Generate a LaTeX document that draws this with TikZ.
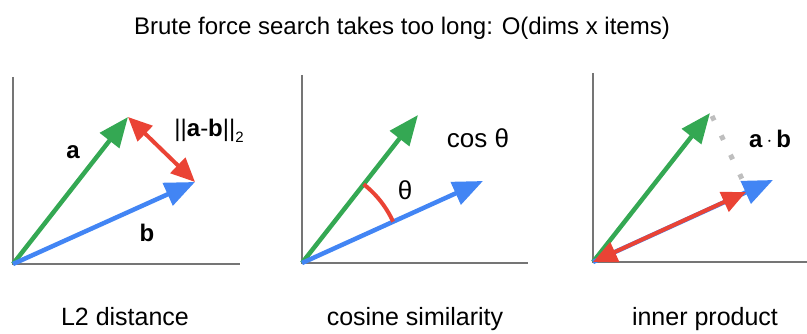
\documentclass[tikz,border=0pt]{standalone}
\usepackage{fontspec}
\setmainfont{Liberation Sans}
\usetikzlibrary{arrows.meta}

\definecolor{ggreen}{RGB}{52,168,83}
\definecolor{gblue}{RGB}{66,133,244}
\definecolor{gred}{RGB}{234,67,53}
\definecolor{axisgray}{RGB}{117,117,117}
\definecolor{dotgray}{RGB}{190,190,190}

\begin{document}
\begin{tikzpicture}[x=1pt, y=1pt,
  axis/.style={draw=axisgray, line width=2pt},
  vec/.style={line width=4.5pt, -{Triangle[length=30pt, width=24pt]}},
  diff/.style={gred, line width=4pt, {Triangle[length=24pt, width=21pt]}-{Triangle[length=24pt, width=21pt]}},
  lbl/.style={font=\fontsize{24}{28}\selectfont, inner sep=0pt},
  caption/.style={font=\fontsize{25}{30}\selectfont, anchor=base, inner sep=0pt}]
  \useasboundingbox (0,0) rectangle (807,334);

  \node[font=\fontsize{24}{28}\selectfont, anchor=base, inner sep=0pt] (title) at (402,299)
    {Brute force search takes too long: O(dims x items)};

  % L2 distance
  \coordinate (O1) at (13,70);
  \coordinate (Y1) at (13,257);
  \coordinate (X1) at (240,70);
  \coordinate (A1) at (128,217);
  \coordinate (B1) at (195,152);

  \draw[axis] (Y1) -- (O1) -- (X1);
  \draw[vec, ggreen] (O1) -- (A1);
  \draw[vec, gblue] (O1) -- (B1);
  \draw[diff] (A1) -- (B1);

  \node[lbl] (a1) at (73,182) {\textbf{a}};
  \node[lbl] (b1) at (147,101) {\textbf{b}};
  \node[lbl] (n1) at (209,203) {||\textbf{a}-\textbf{b}||\raisebox{-0.45ex}{\fontsize{15}{17}\selectfont 2}};
  \node[caption] (c1) at (125,8) {L2 distance};

  % cosine similarity
  \coordinate (O2) at (302,71);
  \coordinate (Y2) at (302,259);
  \coordinate (X2) at (528,71);
  \coordinate (A2) at (418,219);
  \coordinate (B2) at (483,153);

  \draw[axis] (Y2) -- (O2) -- (X2);
  \draw[vec, ggreen] (O2) -- (A2);
  \draw[vec, gblue] (O2) -- (B2);
  \draw[gred, line width=4pt] ([shift={(24.4:100)}]O2) arc (24.4:51.9:100);

  \node[lbl, font=\fontsize{26}{30}\selectfont] (t2) at (405,144) {θ};
  \node[lbl, font=\fontsize{26}{30}\selectfont] (cos2) at (478,196) {cos θ};
  \node[caption] (c2) at (415,8) {cosine similarity};

  % inner product
  \coordinate (O3) at (593,72);
  \coordinate (Y3) at (593,261);
  \coordinate (X3) at (807,72);
  \coordinate (A3) at (710,221);
  \coordinate (B3) at (773,154);
  \coordinate (P3) at (746,142);

  \draw[axis] (Y3) -- (O3) -- (X3);
  \draw[vec, ggreen] (O3) -- (A3);
  \draw[vec, gblue] (O3) -- (B3);
  \draw[diff] (O3) -- (P3);
  \draw[dotgray, line width=5pt, dash pattern=on 5pt off 16.5pt] ([shift={(2,-3)}]A3) -- ([shift={(-4,13)}]P3);

  \node[lbl] (ab3) at (770,195) {\textbf{a}\,\raisebox{0.1ex}{\fontsize{20}{22}\selectfont$\cdot$}\,\textbf{b}};
  \node[caption] (c3) at (705,8) {inner product};
\end{tikzpicture}
\end{document}
